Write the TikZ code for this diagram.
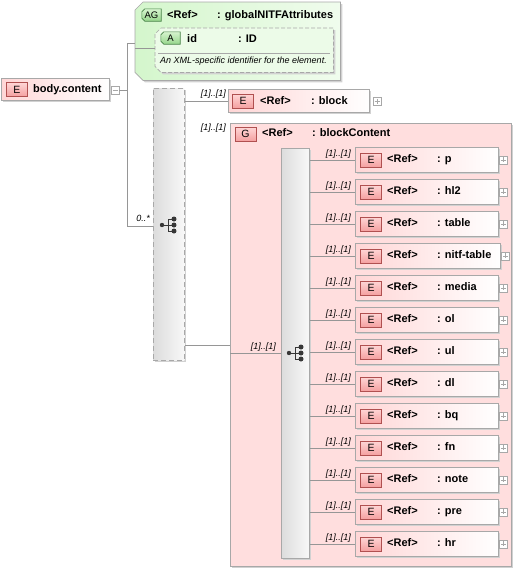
\documentclass[tikz,border=0pt]{standalone}
\usepackage{fontspec}
\setmainfont{Liberation Sans}
\usetikzlibrary{shadows}
\pgfdeclarelayer{bg}
\pgfsetlayers{bg,main}
\definecolor{elpink}{RGB}{255,214,214}
\definecolor{gpink}{RGB}{255,222,222}
\definecolor{badgetop}{RGB}{255,214,214}
\definecolor{badgebot}{RGB}{244,160,160}
\definecolor{badgeline}{RGB}{176,80,80}
\definecolor{boxline}{RGB}{168,168,168}
\definecolor{aggreen}{RGB}{212,246,204}
\definecolor{agtop}{RGB}{214,244,206}
\definecolor{agbot}{RGB}{150,214,140}
\definecolor{agline}{RGB}{70,130,70}
\definecolor{seqA}{RGB}{220,220,220}
\definecolor{seqB}{RGB}{248,248,248}
\definecolor{connc}{RGB}{150,150,150}
\definecolor{iconc}{RGB}{55,55,55}
\tikzset{
  conn/.style={draw=connc, line width=0.7pt},
  shad/.style={drop shadow={shadow xshift=2pt, shadow yshift=-2pt, fill=black!18, opacity=1}},
  elbox/.style={draw=boxline, line width=0.7pt, left color=elpink, right color=white, shad, inner sep=0pt, anchor=north west, minimum height=25pt},
  ebadge/.style={draw=badgeline, line width=0.6pt, top color=badgetop, bottom color=badgebot, inner sep=0pt, minimum width=21pt, minimum height=14pt, font=\fontsize{10.5}{12}\selectfont},
  ttl/.style={font=\bfseries\fontsize{11}{13}\selectfont, anchor=base west, inner sep=0pt},
  card/.style={font=\itshape\fontsize{9}{11}\selectfont, anchor=base east, inner sep=0pt},
  pmbox/.style={draw=boxline, fill=white, minimum size=8pt, inner sep=0pt, line width=0.5pt},
  plusbox/.style={pmbox, path picture={\draw[boxline, line width=0.6pt] ([xshift=1.5pt]path picture bounding box.west) -- ([xshift=-1.5pt]path picture bounding box.east) ([yshift=-1.5pt]path picture bounding box.north) -- ([yshift=1.5pt]path picture bounding box.south);}},
  minusbox/.style={pmbox, path picture={\draw[boxline, line width=0.6pt] ([xshift=1.5pt]path picture bounding box.west) -- ([xshift=-1.5pt]path picture bounding box.east);}},
  seqbox/.style={draw=boxline, line width=0.7pt, left color=seqA, right color=seqB, shad, inner sep=0pt, anchor=north west},
  gbadge/.style={inner sep=0pt, minimum width=19pt, minimum height=12pt, font=\fontsize{9.5}{11}\selectfont},
  seqicon/.pic={
    \draw[iconc, line width=1pt] (-6,0) -- (0,0) (0,-6) -- (0,6) (0,-6) -- (6,-6) (0,0) -- (6,0) (0,6) -- (6,6);
    \fill[iconc] (-6,0) circle (2.2pt) (6,-6) circle (2.5pt) (6,0) circle (2.5pt) (6,6) circle (2.5pt);
  },
}
\begin{document}
\begin{tikzpicture}[x=1pt,y=-1pt]
\useasboundingbox (0,0) rectangle (520,576);

% ---- body.content
\node[elbox, minimum width=108pt, minimum height=22pt] (body) at (1,78) {};
\node[ebadge] (bodyb) at (17,89.5) {E};
\node[ttl] (bodyt) at (33,92.5) {body.content};
\node[minusbox] (bodypm) at (115,90) {};

% ---- attribute group
\node[inner sep=0pt, minimum width=205pt, minimum height=78pt, anchor=north west] (ag) at (135,2) {};
\node[gbadge] (agb) at (151.5,15) {AG};
\node[inner sep=0pt, minimum width=178pt, minimum height=44pt, anchor=north west] (attr) at (155,28) {};
\node[gbadge] (ab) at (170.5,38) {A};
\begin{pgfonlayer}{bg}
\path[draw=boxline, line width=0.7pt, left color=aggreen, right color=aggreen!35!white, shad]
  ([xshift=8pt]ag.north west) -- (ag.north east) -- (ag.south east) -- ([xshift=8pt]ag.south west)
  -- ([yshift=8pt]ag.south west) -- ([yshift=-8pt]ag.north west) -- cycle;
\path[draw=agline, line width=0.6pt, top color=agtop, bottom color=agbot]
  ([xshift=3pt]agb.north west) -- (agb.north east) -- (agb.south east) -- ([xshift=3pt]agb.south west)
  -- ([yshift=3pt]agb.south west) -- ([yshift=-3pt]agb.north west) -- cycle;
\path[draw=boxline, line width=0.7pt, dash pattern=on 4pt off 2pt, fill=aggreen!45!white, shad]
  ([xshift=6pt]attr.north west) -- (attr.north east) -- (attr.south east) -- ([xshift=6pt]attr.south west)
  -- ([yshift=6pt]attr.south west) -- ([yshift=-6pt]attr.north west) -- cycle;
\path[draw=agline, line width=0.6pt, top color=agtop, bottom color=agbot]
  ([xshift=3pt]ab.north west) -- (ab.north east) -- (ab.south east) -- ([xshift=3pt]ab.south west)
  -- ([yshift=3pt]ab.south west) -- ([yshift=-3pt]ab.north west) -- cycle;
\end{pgfonlayer}
\node[ttl] (agref) at (167,18.5) {<Ref>};
\node[ttl] (agname) at (217,18.5) {: globalNITFAttributes};
\node[ttl] (aid) at (187,42) {id};
\node[ttl] (atype) at (238,42) {: ID};
\draw[boxline, line width=0.5pt] (158,53) -- (330,53);
\node[font=\itshape\fontsize{9}{10}\selectfont, anchor=base west, inner sep=0pt] (adesc) at (160,63.5) {An XML-specific identifier for the element.};

% ---- outer sequence
\node[seqbox, dash pattern=on 5pt off 3pt, minimum width=31pt, minimum height=272pt] (seq) at (153,88) {};
\pic at (168,225) {seqicon};

% ---- block
\node[elbox, minimum width=141pt, minimum height=23pt] (blk) at (228,89) {};
\node[ebadge] (blkb) at (243,101) {E};
\node[ttl] (blkr) at (260,104.5) {<Ref>};
\node[ttl] (blkn) at (311,104.5) {: block};
\node[plusbox] (blkp) at (377,101) {};

% ---- group
\node[draw=boxline, line width=0.7pt, fill=gpink, shad, inner sep=0pt, anchor=north west, minimum width=281pt, minimum height=443pt] (grp) at (230,123) {};
\node[ebadge] (grpb) at (245.5,134) {G};
\node[ttl] (grpr) at (262,136) {<Ref>};
\node[ttl] (grpn) at (312,136) {: blockContent};

% ---- inner sequence
\node[seqbox, minimum width=28pt, minimum height=410pt] (iseq) at (281,148) {};
\pic at (295,353) {seqicon};

% ---- connectors and cardinalities
\coordinate (jt) at (127,43);
\coordinate (jb) at (127,226);
\coordinate (ga) at (0,345);
\coordinate (gb) at (0,353);
\coordinate (aa) at (0,48);
\draw[conn] (bodypm.east) -- (bodypm.east -| jt);
\draw[conn] (jt) -- (jb);
\draw[conn] (jt) -- (jt -| ag.west);
\draw[conn] (ag.west |- aa) -- (attr.west |- aa);
\draw[conn] (jb) -- (jb -| seq.west);
\node[card] (k0) at (150,221) {0..*};
\draw[conn] (seq.east |- blk.west) -- (blk.west);
\node[card] (kb) at (226,96.5) {[1]..[1]};
\draw[conn] (seq.east |- ga) -- (grp.west |- ga);
\node[card] (kg) at (226,130) {[1]..[1]};
\draw[conn] (grp.west |- gb) -- (iseq.west |- gb);
\node[card] (ks) at (276,349.5) {[1]..[1]};

% ---- children
\foreach \nm/\w [count=\i from 0] in {p/143,hl2/143,table/143,nitf-table/145,media/143,ol/143,ul/143,dl/143,bq/143,fn/143,note/143,pre/143,hr/143} {
  \pgfmathsetmacro\T{147+32*\i}
  \node[elbox, minimum width=\w pt] (c\i) at (355,\T) {};
  \node[ebadge] (cb\i) at (371,\T+13) {E};
  \node[ttl] (cr\i) at (387,\T+15) {<Ref>};
  \node[ttl] (cn\i) at (437,\T+15) {: \nm};
  \node[plusbox] (cp\i) at ([xshift=5pt]c\i.east) {};
  \draw[conn] (iseq.east |- c\i.west) -- (c\i.west);
  \node[card] (kc\i) at (351,\T+9.5) {[1]..[1]};
}
\end{tikzpicture}
\end{document}
